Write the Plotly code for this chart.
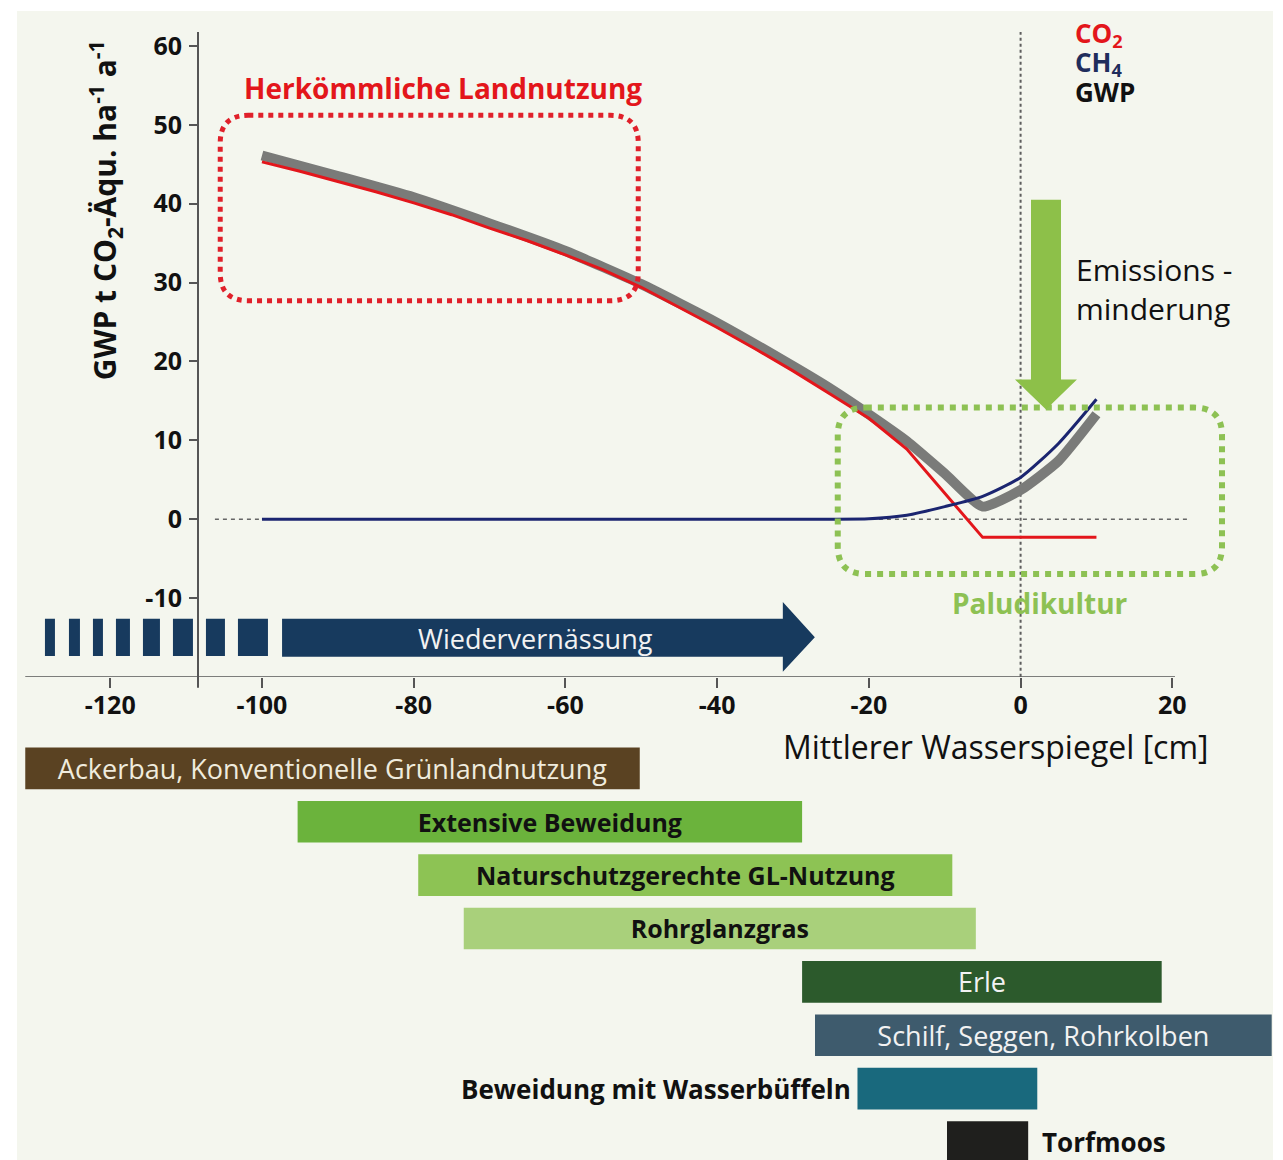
import plotly.graph_objects as go

# ---------------- data ----------------
water_level = [-100, -90, -80, -70, -60, -50, -40, -30, -25, -20, -15, -10, -5, 0, 5, 10]
ch4 = [0, 0, 0, 0, 0, 0, 0, 0, 0, 0.05, 0.5, 1.6, 2.9, 5.3, 9.6, 15.2]
gwp = [46.1, 43.5, 40.8, 37.5, 34.0, 29.8, 24.9, 19.4, 16.5, 13.3, 9.9, 5.8, 1.6, 3.7, 7.4, 13.3]

co2_level = [-100, -95, -90, -85, -80, -75, -70, -65, -60, -55, -50, -45, -40, -35, -30,
             -25, -20, -15, -10, -5, 0, 5, 10]
co2 = [45.3, 44.1, 42.8, 41.5, 40.1, 38.6, 36.9, 35.3, 33.5, 31.6, 29.4, 26.9, 24.3,
       21.6, 18.8, 15.8, 12.8, 8.9, 3.3, -2.3, -2.3, -2.3, -2.3]

x_ticks = [-120, -100, -80, -60, -40, -20, 0, 20]
x_tick_labels = ["-120", "-100", "-80", "-60", "-40", "-20", "0", "20"]
y_ticks = [-10, 0, 10, 20, 30, 40, 50, 60]
y_tick_labels = ["-10", "0", "10", "20", "30", "40", "50", "60"]

land_use = ["Ackerbau, Konventionelle Grünlandnutzung", "Extensive Beweidung",
            "Naturschutzgerechte GL-Nutzung", "Rohrglanzgras", "Erle",
            "Schilf, Seggen, Rohrkolben", "Beweidung mit Wasserbüffeln", "Torfmoos"]
range_start = [-131.2, -95.3, -79.4, -73.4, -28.8, -27.1, -21.5, -9.7]
range_end = [-50.2, -28.8, -9.0, -5.9, 18.6, 33.1, 2.2, 1.0]

# ---------------- styles ----------------
FONT = "Open Sans"
bar_colors = ["#5A4222", "#6BB33C", "#8DC354", "#A9D07B", "#2C5A2C", "#3E5B6D", "#19697D", "#1F1F1D"]
bar_text_colors = ["#EFEBDD", "#111111", "#111111", "#111111", "#F2F2F2", "#F2F2F2", "#111111", "#111111"]
bar_text_sizes = [27, 25, 25, 25, 27, 27, 25, 25]
bar_bold = [False, True, True, True, False, False, True, True]
inside_label = [True, True, True, True, True, True, False, False]
BG = "#F4F6EE"
AXIS = "#555555"

fig = go.Figure()

fig.add_trace(go.Scatter(x=water_level, y=gwp, mode="lines", name="GWP",
                         line=dict(color="#7A7B79", width=10, shape="spline", smoothing=0.5),
                         xaxis="x", yaxis="y"))
fig.add_trace(go.Scatter(x=co2_level, y=co2, mode="lines", name="CO2",
                         line=dict(color="#E3161B", width=3),
                         xaxis="x", yaxis="y"))
fig.add_trace(go.Scatter(x=water_level, y=ch4, mode="lines", name="CH4",
                         line=dict(color="#1B2570", width=3, shape="spline", smoothing=0.6),
                         xaxis="x", yaxis="y"))

bar_text = []
for name, b, ins in zip(land_use, bar_bold, inside_label):
    if not ins:
        bar_text.append("")
    else:
        bar_text.append(f"<b>{name}</b>" if b else name)

fig.add_trace(go.Bar(
    y=land_use, base=range_start,
    x=[e - s for s, e in zip(range_start, range_end)],
    orientation="h", width=0.78,
    marker=dict(color=bar_colors, line=dict(width=0)),
    text=bar_text, textposition="inside", insidetextanchor="middle",
    textfont=dict(family=FONT, size=bar_text_sizes, color=bar_text_colors),
    constraintext="none", xaxis="x", yaxis="y2", hoverinfo="skip"))

# ---------------- helpers for decorations ----------------
def rounded_rect(x0, x1, y0, y1, rx, ry):
    return (f"M {x0+rx},{y1} L {x1-rx},{y1} Q {x1},{y1} {x1},{y1-ry} "
            f"L {x1},{y0+ry} Q {x1},{y0} {x1-rx},{y0} L {x0+rx},{y0} "
            f"Q {x0},{y0} {x0},{y0+ry} L {x0},{y1-ry} Q {x0},{y1} {x0+rx},{y1} Z")

shapes = []
# panel background
shapes.append(dict(type="rect", xref="paper", yref="paper", x0=17/1283, x1=1273/1283,
                   y0=0, y1=1-7/1160, fillcolor=BG, line=dict(width=0), layer="below"))
# zero line (dashed)
shapes.append(dict(type="line", xref="x", yref="y", x0=-106.2, x1=22.4, y0=0, y1=0,
                   line=dict(color="#666666", width=1.5, dash="4px,4px"), layer="below"))
# vertical dotted line at 0
shapes.append(dict(type="line", xref="x", yref="y domain", x0=0, x1=0, y0=0, y1=1,
                   line=dict(color="#5E5E5E", width=2, dash="3px,3px"), layer="below"))
# x axis line
shapes.append(dict(type="line", xref="x", yref="y", x0=-131.2, x1=20.35, y0=-20, y1=-20,
                   line=dict(color=AXIS, width=2), layer="above"))
# y axis extension below x axis
shapes.append(dict(type="line", xref="paper", yref="paper", x0=198/1283, x1=198/1283,
                   y0=1-686/1160, y1=1-674/1160, line=dict(color=AXIS, width=2)))
# red dotted rounded box
shapes.append(dict(type="path", xref="x", yref="y",
                   path=rounded_rect(-105.5, -50.4, 27.7, 51.2, 3.7, 3.5),
                   line=dict(color="#E0202A", width=5, dash="dot"), layer="above"))
# green dotted rounded box
shapes.append(dict(type="path", xref="x", yref="y",
                   path=rounded_rect(-24.1, 26.55, -6.95, 14.15, 3.7, 3.5),
                   line=dict(color="#8DC153", width=6, dash="dot"), layer="above"))
# green arrow (Emissionsminderung)
shapes.append(dict(type="path", xref="x", yref="y",
                   path="M 1.37,40.5 L 5.33,40.5 L 5.33,17.7 L 7.43,17.7 L 3.35,13.9 "
                        "L -0.74,17.7 L 1.37,17.7 Z",
                   fillcolor="#8DC049", line=dict(width=0), layer="above"))
# navy arrow (Wiedervernässung)
NAVY = "#173A5E"
shapes.append(dict(type="path", xref="x", yref="y",
                   path="M -97.35,-12.63 L -31.34,-12.63 L -31.34,-10.48 L -27.12,-14.95 "
                        "L -31.34,-19.33 L -31.34,-17.43 L -97.35,-17.43 Z",
                   fillcolor=NAVY, line=dict(width=0), layer="above"))
dash_px = [(45, 55), (69, 80), (93, 103), (116, 130), (143, 160), (173, 193), (206, 225), (238, 268)]
for a, b in dash_px:
    shapes.append(dict(type="rect", xref="x", yref="y",
                       x0=(a - 1020.6) / 7.586, x1=(b - 1020.6) / 7.586,
                       y0=-17.33, y1=-12.63, fillcolor=NAVY, line=dict(width=0), layer="above"))

legend_items = [("<b>CO<sub>2</sub></b>", "#E3161B", 61.5),
                ("<b>CH<sub>4</sub></b>", "#1F2D5C", 57.8),
                ("<b>GWP</b>", "#111111", 54.1)]

annotations = [
    dict(text="<b>Herkömmliche Landnutzung</b>", x=-76.1, y=54.6, xref="x", yref="y",
         xanchor="center", yanchor="middle",
         showarrow=False, font=dict(family=FONT, size=28, color="#E3161B")),
    dict(text="Emissions -<br>minderung", x=7.0, y=29.2, xref="x", yref="y", xanchor="left",
         yanchor="middle", align="left", showarrow=False,
         font=dict(family=FONT, size=30, color="#111111")),
    dict(text="<b>Paludikultur</b>", x=2.56, y=-10.6, xref="x", yref="y",
         xanchor="center", yanchor="middle",
         showarrow=False, font=dict(family=FONT, size=28, color="#8DC153")),
    dict(text="Wiedervernässung", x=-63.9, y=-15.1, xref="x", yref="y",
         xanchor="center", yanchor="middle",
         showarrow=False, font=dict(family=FONT, size=27, color="#F2F2F2")),
    dict(text="Mittlerer Wasserspiegel [cm]", x=996/1283, y=1-745/1160, xref="paper",
         yref="paper", xanchor="center", yanchor="middle", showarrow=False,
         font=dict(family=FONT, size=32, color="#111111")),
    dict(text="<b>GWP t CO<sub>2</sub>-Äqu. ha<sup>-1</sup> a<sup>-1</sup></b>",
         x=105/1283, y=1-207/1160, xref="paper", yref="paper", textangle=-90,
         xanchor="center", yanchor="middle",
         showarrow=False, font=dict(family=FONT, size=30, color="#111111")),
    dict(text=f"<b>{land_use[6]}</b>", x=range_start[6], y=land_use[6], xref="x", yref="y2",
         xanchor="right", yanchor="middle", xshift=-4, showarrow=False,
         font=dict(family=FONT, size=26, color=bar_text_colors[6])),
    dict(text=f"<b>{land_use[7]}</b>", x=range_end[7], y=land_use[7], xref="x", yref="y2",
         xanchor="left", yanchor="middle", xshift=12, showarrow=False,
         font=dict(family=FONT, size=26, color=bar_text_colors[7])),
]
for txt, col, yv in legend_items:
    annotations.append(dict(text=txt, x=7.0, y=yv, xref="x", yref="y", xanchor="left",
                            yanchor="middle", height=28, borderpad=0, valign="middle",
                            showarrow=False, font=dict(family=FONT, size=26, color=col)))

fig.update_layout(
    width=1283, height=1160,
    margin=dict(l=0, r=0, t=0, b=0),
    paper_bgcolor="white", plot_bgcolor="rgba(0,0,0,0)",
    showlegend=False,
    font=dict(family=FONT, color="#111111"),
    xaxis=dict(domain=[0, 1], range=[-134.53, 34.59], anchor="y",
               showgrid=False, zeroline=False, showline=False,
               tickmode="array", tickvals=x_ticks, ticktext=x_tick_labels,
               ticks="outside", ticklen=10, tickwidth=2, tickcolor=AXIS,
               tickfont=dict(family=FONT, size=25, color="#111111", weight="bold"),
               ticklabelstandoff=-4),
    yaxis=dict(domain=[1-675/1160, 1-28/1160], range=[-19.958, 61.77],
               anchor="free", position=198/1283,
               showgrid=False, zeroline=False, showline=True, linecolor=AXIS, linewidth=2,
               tickmode="array", tickvals=y_ticks, ticktext=y_tick_labels,
               ticks="outside", ticklen=8, tickwidth=2, tickcolor=AXIS,
               tickfont=dict(family=FONT, size=25, color="#111111", weight="bold"),
               ticklabelstandoff=2),
    yaxis2=dict(domain=[0, 1-740.2/1160], range=[7.337, -0.5], anchor="x",
                type="category", categoryorder="array", categoryarray=land_use,
                showgrid=False, zeroline=False, showline=False, showticklabels=False,
                ticks=""),
    shapes=shapes,
    annotations=annotations,
)

fig.write_html("out.html", config={"displayModeBar": False},
               post_script="document.body.style.margin='0';")
